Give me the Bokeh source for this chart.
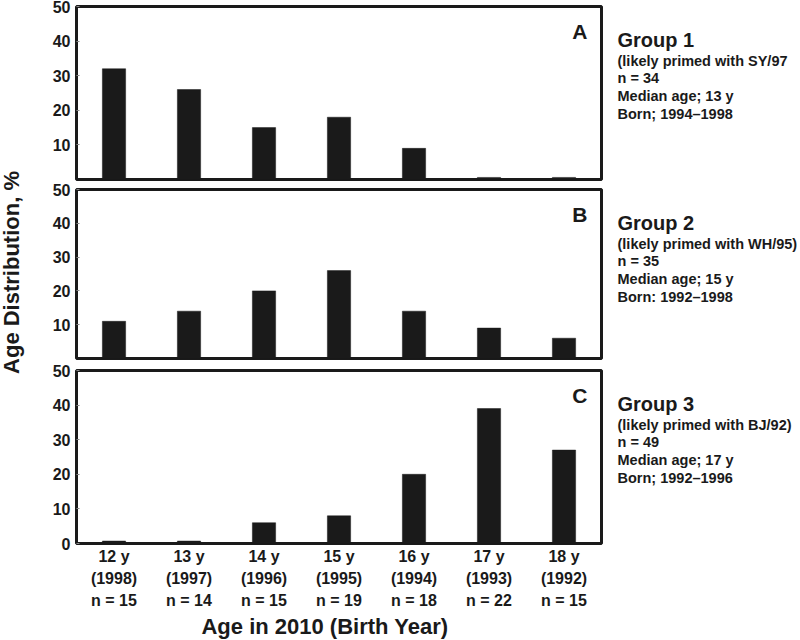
import math
from bokeh.plotting import figure
from bokeh.models import Range1d, FixedTicker, Label, ColumnDataSource
from bokeh.layouts import row, column
from bokeh.embed import file_html
from bokeh.resources import INLINE

# ---------------- data ----------------
ages = ["12 y", "13 y", "14 y", "15 y", "16 y", "17 y", "18 y"]
birth_years = ["(1998)", "(1997)", "(1996)", "(1995)", "(1994)", "(1993)", "(1992)"]
age_counts = [15, 14, 15, 19, 18, 22, 15]

group1_pct = [32, 26, 15, 18, 9, 0.6, 0.6]
group2_pct = [11, 14, 20, 26, 14, 9, 6]
group3_pct = [0.7, 0.7, 6, 8, 20, 39, 27]

panel_letters = ["A", "B", "C"]
group_titles = ["Group 1", "Group 2", "Group 3"]
group_notes = [
    ["(likely primed with SY/97", "n = 34", "Median age; 13 y", "Born; 1994\u20131998"],
    ["(likely primed with WH/95)", "n = 35", "Median age; 15 y", "Born: 1992\u20131998"],
    ["(likely primed with BJ/92)", "n = 49", "Median age; 17 y", "Born; 1992\u20131996"],
]
y_ticks_upper = [10, 20, 30, 40, 50]
y_ticks_lower = [0, 10, 20, 30, 40, 50]
y_title = "Age Distribution, %"
x_title = "Age in 2010 (Birth Year)"

# ---------------- layout ----------------
FONT = "Liberation Sans"
INK = "#1a1a1a"
LEFT_W = 26
PANEL_LEFT = 50
FRAME_W = 525
PANEL_RIGHT = 4
RIGHT_W = 195
BOTTOM_H = 28
SLOT = FRAME_W / len(ages)

specs = [  # (min_border_top, frame_height, min_border_bottom)
    (6, 173, 3),
    (7, 169, 4),
    (8, 173, 69),
]
series = [group1_pct, group2_pct, group3_pct]
xs = [i + 0.5 for i in range(len(ages))]

panels = []
frame_tops = []
cursor = 0
for k, (top, fh, bot) in enumerate(specs):
    frame_tops.append(cursor + top)
    cursor += top + fh + bot
    ppu = fh / 50.0
    last = k == len(specs) - 1
    p = figure(
        width=PANEL_LEFT + FRAME_W + PANEL_RIGHT,
        height=top + fh + bot,
        frame_width=FRAME_W,
        frame_height=fh,
        min_border_left=PANEL_LEFT,
        min_border_right=PANEL_RIGHT,
        min_border_top=top,
        min_border_bottom=bot,
        x_range=Range1d(0, len(ages)),
        y_range=Range1d(0, 50),
        title=None,
        output_backend="svg",
        toolbar_location=None,
    )
    p.xgrid.visible = False
    p.ygrid.visible = False
    p.outline_line_color = INK
    p.outline_line_width = 3
    p.background_fill_color = "white"
    p.border_fill_color = "white"

    src = ColumnDataSource(dict(x=xs, top=series[k]))
    p.vbar(x="x", top="top", bottom=0, width=0.31, source=src,
           fill_color=INK, line_color=INK, line_width=0.5)

    ya = p.yaxis[0]
    ya.ticker = FixedTicker(ticks=y_ticks_lower if last else y_ticks_upper)
    ya.axis_line_color = None
    ya.minor_tick_line_color = None
    ya.major_tick_in = 3
    ya.major_tick_out = 0
    ya.major_tick_line_color = "#888888"
    ya.major_tick_line_width = 1
    ya.major_label_standoff = 6
    ya.major_label_text_font = FONT
    ya.major_label_text_font_style = "bold"
    ya.major_label_text_font_size = "16px"
    ya.major_label_text_color = INK

    xa = p.xaxis[0]
    if last:
        xa.ticker = FixedTicker(ticks=xs)
        xa.major_label_overrides = {
            x: f"{a}\n{b}\nn = {n}" for x, a, b, n in zip(xs, ages, birth_years, age_counts)
        }
        xa.axis_line_color = None
        xa.major_tick_line_color = None
        xa.minor_tick_line_color = None
        xa.major_label_standoff = -2
        xa.major_label_text_font = FONT
        xa.major_label_text_font_style = "bold"
        xa.major_label_text_font_size = "16px"
        xa.major_label_text_color = INK
        xa.major_label_text_line_height = 1.3
    else:
        xa.visible = False

    p.add_layout(Label(
        x=len(ages) - 14 / SLOT, y=50 - 25 / ppu, text=panel_letters[k],
        text_font=FONT, text_font_style="bold", text_font_size="21px",
        text_color=INK, text_align="right", text_baseline="middle",
    ))
    panels.append(p)

panels_h = cursor
total_h = panels_h + BOTTOM_H


def blank(w, h):
    f = figure(width=w, height=h, x_range=Range1d(0, w), y_range=Range1d(h, 0),
               min_border=0, min_border_left=0, min_border_right=0,
               min_border_top=0, min_border_bottom=0, title=None,
               output_backend="svg", toolbar_location=None)
    f.axis.visible = False
    f.grid.visible = False
    f.outline_line_color = None
    f.border_fill_color = "white"
    f.background_fill_color = "white"
    return f


# x-axis title strip under the bottom panel
bottom = blank(PANEL_LEFT + FRAME_W + PANEL_RIGHT, BOTTOM_H)
bottom.add_layout(Label(
    x=325 - LEFT_W - 25, y=626 - panels_h, text=x_title,
    text_font=FONT, text_font_style="bold", text_font_size="22px",
    text_color=INK, text_align="center", text_baseline="middle",
))

# y-axis title strip
left = blank(LEFT_W, total_h)
left.add_layout(Label(
    x=11, y=272, text=y_title, angle=math.pi / 2,
    text_font=FONT, text_font_style="bold", text_font_size="22px",
    text_color=INK, text_align="center", text_baseline="middle",
))

# group descriptions on the right
right = blank(RIGHT_W, total_h)
for k, ft in enumerate(frame_tops):
    right.add_layout(Label(
        x=12, y=ft + 33.5, text=group_titles[k],
        text_font=FONT, text_font_style="bold", text_font_size="20px",
        text_color=INK, text_align="left", text_baseline="middle",
    ))
    for j, line in enumerate(group_notes[k]):
        right.add_layout(Label(
            x=12, y=ft + 54 + 17.7 * j, text=line,
            text_font=FONT, text_font_style="bold", text_font_size="14.5px",
            text_color=INK, text_align="left", text_baseline="middle",
        ))

layout = row(left, column(*panels, bottom, spacing=0), right, spacing=0)

open("out.html", "w").write(file_html(layout, INLINE))
